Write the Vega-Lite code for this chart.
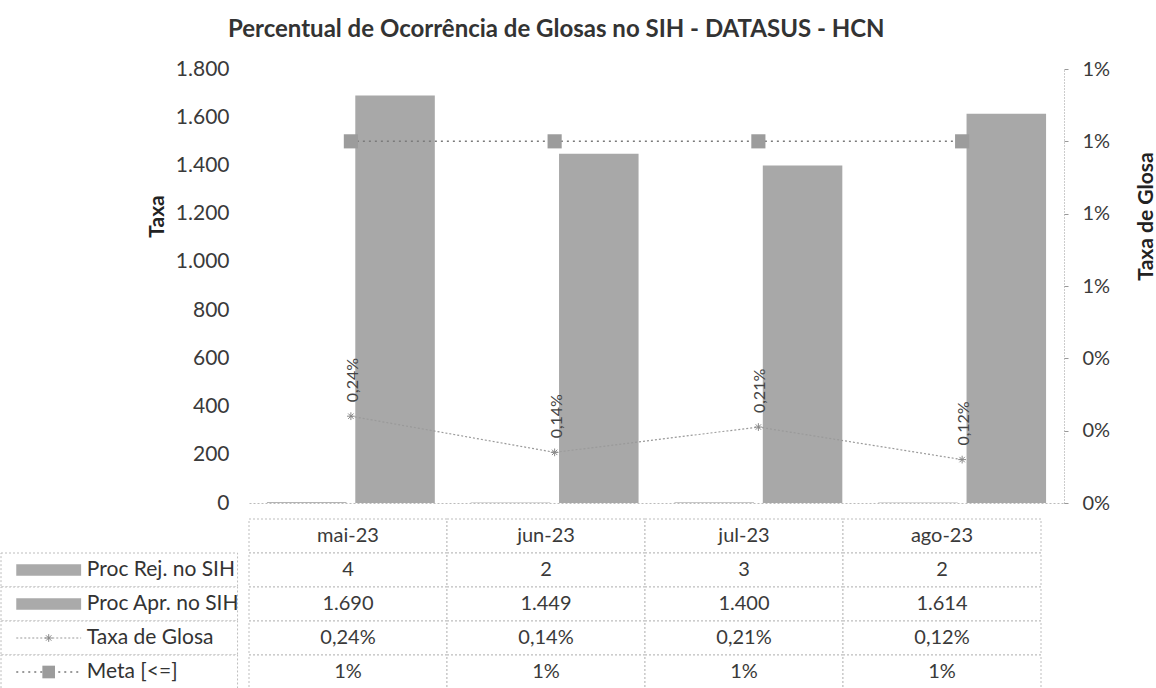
{
  "$schema": "https://vega.github.io/schema/vega-lite/v6.json",
  "padding": {"left": 0, "top": 18, "right": 0, "bottom": 0},
  "background": "white",
  "config": {
    "font": "Lato",
    "view": {"stroke": null},
    "locale": {"number": {"decimal": ",", "thousands": ".", "grouping": [3], "currency": ["R$ ", ""]}},
    "axis": {"labelFont": "Lato", "titleFont": "Lato", "labelColor": "#3a3a3a", "titleColor": "#222222"}
  },
  "title": {"text": "Percentual de Ocorrência de Glosas no SIH - DATASUS - HCN", "font": "Lato", "fontSize": 24, "fontWeight": "bold", "color": "#333333", "anchor": "middle", "offset": 16, "dx": -22},
  "datasets": {
    "barras": [
      {"mes": "mai-23", "serie": "Proc Rej. no SIH", "valor": 4},
      {"mes": "jun-23", "serie": "Proc Rej. no SIH", "valor": 2},
      {"mes": "jul-23", "serie": "Proc Rej. no SIH", "valor": 3},
      {"mes": "ago-23", "serie": "Proc Rej. no SIH", "valor": 2},
      {"mes": "mai-23", "serie": "Proc Apr. no SIH", "valor": 1690},
      {"mes": "jun-23", "serie": "Proc Apr. no SIH", "valor": 1449},
      {"mes": "jul-23", "serie": "Proc Apr. no SIH", "valor": 1400},
      {"mes": "ago-23", "serie": "Proc Apr. no SIH", "valor": 1614}
    ],
    "taxa": [
      {"mes": "mai-23", "taxa": 0.0024, "meta": 0.01, "rotulo": "0,24%"},
      {"mes": "jun-23", "taxa": 0.0014, "meta": 0.01, "rotulo": "0,14%"},
      {"mes": "jul-23", "taxa": 0.0021, "meta": 0.01, "rotulo": "0,21%"},
      {"mes": "ago-23", "taxa": 0.0012, "meta": 0.01, "rotulo": "0,12%"}
    ],
    "legenda": [
      {"linha": "Proc Rej. no SIH", "tipo": "barra"},
      {"linha": "Proc Apr. no SIH", "tipo": "barra"},
      {"linha": "Taxa de Glosa", "tipo": "linha"},
      {"linha": "Meta [<=]", "tipo": "meta"}
    ],
    "tabela": [
      {"mes": "mai-23", "linha": "mês", "texto": "mai-23"},
      {"mes": "jun-23", "linha": "mês", "texto": "jun-23"},
      {"mes": "jul-23", "linha": "mês", "texto": "jul-23"},
      {"mes": "ago-23", "linha": "mês", "texto": "ago-23"},
      {"mes": "mai-23", "linha": "Proc Rej. no SIH", "texto": "4"},
      {"mes": "jun-23", "linha": "Proc Rej. no SIH", "texto": "2"},
      {"mes": "jul-23", "linha": "Proc Rej. no SIH", "texto": "3"},
      {"mes": "ago-23", "linha": "Proc Rej. no SIH", "texto": "2"},
      {"mes": "mai-23", "linha": "Proc Apr. no SIH", "texto": "1.690"},
      {"mes": "jun-23", "linha": "Proc Apr. no SIH", "texto": "1.449"},
      {"mes": "jul-23", "linha": "Proc Apr. no SIH", "texto": "1.400"},
      {"mes": "ago-23", "linha": "Proc Apr. no SIH", "texto": "1.614"},
      {"mes": "mai-23", "linha": "Taxa de Glosa", "texto": "0,24%"},
      {"mes": "jun-23", "linha": "Taxa de Glosa", "texto": "0,14%"},
      {"mes": "jul-23", "linha": "Taxa de Glosa", "texto": "0,21%"},
      {"mes": "ago-23", "linha": "Taxa de Glosa", "texto": "0,12%"},
      {"mes": "mai-23", "linha": "Meta [<=]", "texto": "1%"},
      {"mes": "jun-23", "linha": "Meta [<=]", "texto": "1%"},
      {"mes": "jul-23", "linha": "Meta [<=]", "texto": "1%"},
      {"mes": "ago-23", "linha": "Meta [<=]", "texto": "1%"}
    ]
  },
  "columns": 2,
  "bounds": "flush",
  "spacing": {"row": 16, "column": 0},
  "concat": [
    {
      "width": 248,
      "height": 434,
      "data": {"values": [{"a": 0}]},
      "mark": {"type": "point", "opacity": 0},
      "encoding": {}
    },
    {
      "width": 815,
      "height": 434,
      "layer": [
        {
          "data": {"name": "barras"},
          "mark": {"type": "bar"},
          "encoding": {
            "x": {"field": "mes", "type": "nominal", "sort": ["mai-23", "jun-23", "jul-23", "ago-23"], "scale": {"paddingInner": 0.176, "paddingOuter": 0.088}, "axis": {"labels": false, "ticks": false, "title": null, "domainColor": "#bbbbbb", "domainDash": [2, 2]}},
            "xOffset": {"field": "serie", "type": "nominal", "sort": ["Proc Rej. no SIH", "Proc Apr. no SIH"], "scale": {"paddingInner": 0.1}},
            "y": {"field": "valor", "type": "quantitative", "scale": {"domain": [0, 1800]}, "axis": {"values": [0, 200, 400, 600, 800, 1000, 1200, 1400, 1600, 1800], "format": ",.0f", "title": "Taxa", "titleFontSize": 21, "titleFontWeight": "bold", "titleX": -92, "titleY": 147, "titleAngle": 270, "titleBaseline": "middle", "titleAlign": "center", "labelFontSize": 21, "domain": false, "ticks": false, "grid": false, "labelPadding": 20}},
            "color": {"field": "serie", "type": "nominal", "scale": {"domain": ["Proc Rej. no SIH", "Proc Apr. no SIH"], "range": ["#b4b4b4", "#a8a8a8"]}, "legend": null}
          }
        },
        {
          "data": {"name": "taxa"},
          "encoding": {"x": {"field": "mes", "type": "nominal", "sort": ["mai-23", "jun-23", "jul-23", "ago-23"]}},
          "layer": [
            {
              "mark": {"type": "line", "color": "#9a9a9a", "strokeWidth": 1.2, "strokeDash": [2, 2]},
              "encoding": {"y": {"field": "taxa", "type": "quantitative", "scale": {"domain": [0, 0.012]}, "axis": {"orient": "right", "values": [0, 0.002, 0.004, 0.006, 0.008, 0.01, 0.012], "format": ".0%", "title": "Taxa de Glosa", "titleFontSize": 21, "titleFontWeight": "bold", "titleAngle": 270, "titleX": 82, "titleY": 147, "titleBaseline": "middle", "titleAlign": "center", "labelFontSize": 20, "domain": true, "domainColor": "#999999", "domainDash": [1, 2], "ticks": true, "tickSize": 4, "tickColor": "#999999", "grid": false, "labelPadding": 14}}}
            },
            {
              "mark": {"type": "point", "shape": "M-1,0L1,0M0,-1L0,1M-0.7,-0.7L0.7,0.7M-0.7,0.7L0.7,-0.7", "filled": false, "color": "#888888", "size": 60, "strokeWidth": 1, "opacity": 1},
              "encoding": {"y": {"field": "taxa", "type": "quantitative"}}
            },
            {
              "mark": {"type": "text", "angle": 270, "align": "left", "baseline": "middle", "dx": 14, "dy": 2, "fontSize": 16, "color": "#444444"},
              "encoding": {"y": {"field": "taxa", "type": "quantitative"}, "text": {"field": "rotulo"}}
            },
            {
              "mark": {"type": "line", "color": "#7a7a7a", "strokeWidth": 1.5, "strokeDash": [2, 4]},
              "encoding": {"y": {"field": "meta", "type": "quantitative"}}
            },
            {
              "mark": {"type": "point", "shape": "square", "filled": true, "color": "#9c9c9c", "size": 200, "opacity": 1},
              "encoding": {"y": {"field": "meta", "type": "quantitative"}}
            }
          ]
        }
      ],
      "resolve": {"scale": {"y": "independent"}}
    },
    {
      "width": 248,
      "height": 170,
      "data": {"name": "legenda"},
      "encoding": {
        "y": {"field": "linha", "type": "nominal", "scale": {"domain": ["mês", "Proc Rej. no SIH", "Proc Apr. no SIH", "Taxa de Glosa", "Meta [<=]"], "paddingInner": 0, "paddingOuter": 0}, "axis": null}
      },
      "layer": [
        {
          "mark": {"type": "rect", "fill": "white", "stroke": "#bdbdbd", "strokeDash": [2, 2], "strokeWidth": 1},
          "encoding": {"x": {"datum": 0, "type": "quantitative", "scale": {"domain": [0, 248]}, "axis": null}, "x2": {"datum": 248}}
        },
        {
          "transform": [{"filter": "datum.tipo === 'barra'"}],
          "mark": {"type": "bar", "height": {"band": 0.34}, "color": "#aaaaaa"},
          "encoding": {"x": {"datum": 16, "type": "quantitative"}, "x2": {"datum": 84}}
        },
        {
          "transform": [{"filter": "datum.tipo === 'linha'"}],
          "mark": {"type": "rule", "color": "#9a9a9a", "strokeWidth": 1.2, "strokeDash": [2, 2]},
          "encoding": {"x": {"datum": 16, "type": "quantitative"}, "x2": {"datum": 84}}
        },
        {
          "transform": [{"filter": "datum.tipo === 'linha'"}],
          "mark": {"type": "point", "shape": "M-1,0L1,0M0,-1L0,1M-0.7,-0.7L0.7,0.7M-0.7,0.7L0.7,-0.7", "filled": false, "color": "#888888", "size": 60, "strokeWidth": 1, "opacity": 1},
          "encoding": {"x": {"datum": 50, "type": "quantitative"}}
        },
        {
          "transform": [{"filter": "datum.tipo === 'meta'"}],
          "mark": {"type": "rule", "color": "#7a7a7a", "strokeWidth": 1.5, "strokeDash": [2, 4]},
          "encoding": {"x": {"datum": 16, "type": "quantitative"}, "x2": {"datum": 84}}
        },
        {
          "transform": [{"filter": "datum.tipo === 'meta'"}],
          "mark": {"type": "point", "shape": "square", "filled": true, "color": "#9c9c9c", "size": 160, "opacity": 1},
          "encoding": {"x": {"datum": 50, "type": "quantitative"}}
        },
        {
          "mark": {"type": "text", "align": "left", "baseline": "middle", "fontSize": 21, "color": "#333333"},
          "encoding": {"x": {"datum": 90, "type": "quantitative"}, "text": {"field": "linha"}}
        }
      ]
    },
    {
      "width": 792,
      "height": 170,
      "data": {"name": "tabela"},
      "encoding": {
        "x": {"field": "mes", "type": "nominal", "sort": ["mai-23", "jun-23", "jul-23", "ago-23"], "scale": {"paddingInner": 0, "paddingOuter": 0}, "axis": null},
        "y": {"field": "linha", "type": "nominal", "scale": {"domain": ["mês", "Proc Rej. no SIH", "Proc Apr. no SIH", "Taxa de Glosa", "Meta [<=]"], "paddingInner": 0, "paddingOuter": 0}, "axis": null}
      },
      "layer": [
        {"mark": {"type": "rect", "fill": "white", "stroke": "#bdbdbd", "strokeDash": [2, 2], "strokeWidth": 1}},
        {"mark": {"type": "text", "fontSize": 20, "color": "#3a3a3a"}, "encoding": {"text": {"field": "texto"}}}
      ]
    }
  ]
}
